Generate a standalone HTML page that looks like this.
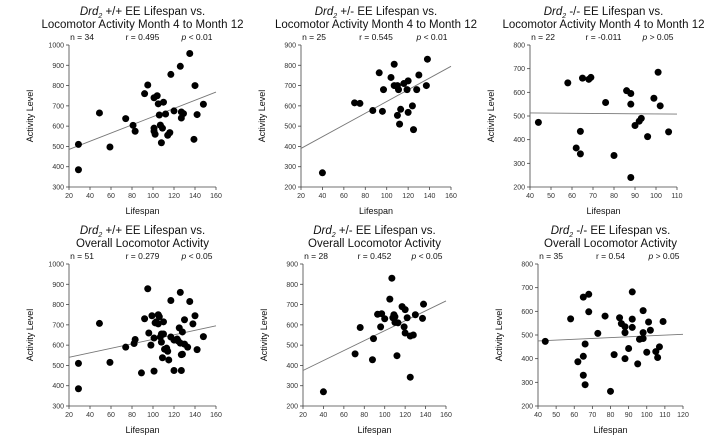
<!DOCTYPE html>
<html><head><meta charset="utf-8"><style>
body{margin:0;background:#fff;width:710px;height:440px;overflow:hidden}
svg{font-family:"Liberation Sans",Arial,sans-serif}
</style></head><body>
<svg id="c" width="710" height="440"></svg>
<script>
const p1x=[29,29,49,59,74,81,83,92,95,101,101,101,102,104,105,106,107,108,109,110,112,114,116,117,120,126,127,127,129,135,139,140,142,148];
const p1y=[510,385,665,497,637,604,575,760,803,740,590,575,560,750,710,655,605,518,590,718,660,555,568,855,675,895,640,670,662,958,535,800,657,708];
const p2x=[40,70,75,87,93,97,96,104,107,107,110,110,111,112,113,116,119,120,120,124,125,128,130,137,138];
const p2y=[270,615,612,577,763,680,573,740,805,700,700,553,680,510,583,710,680,723,568,600,483,680,752,700,830];
const p3x=[44,58,65,68,69,62,64,64,76,80,86,88,88,88,90,92,93,96,99,101,102,106];
const p3y=[473,640,660,655,663,365,435,340,557,333,607,595,550,240,460,478,490,413,575,685,543,433];
const p4x=[29,29,49,59,74,82,83,89,92,95,96,98,99,101,101,102,103,105,105,106,107,108,108,109,110,110,111,113,114,115,117,117,120,120,123,125,126,126,127,127,128,128,130,130,133,135,138,140,142,148,124];
const p4y=[510,385,707,515,590,608,628,463,730,878,660,600,745,472,635,710,715,750,705,740,640,655,615,538,655,715,580,585,570,527,820,640,475,625,630,685,860,610,553,475,555,665,725,605,590,815,705,745,578,642,620];
const p5x=[40,71,76,88,89,93,96,97,100,105,107,108,109,110,110,112,113,117,119,120,120,122,125,125,128,130,137,138];
const p5y=[270,457,587,428,532,652,590,655,630,727,830,635,650,612,640,448,610,690,590,675,560,635,545,342,550,650,632,702];
const p6x=[44,58,65,68,68,65,65,66,66,62,73,77,80,82,85,86,88,88,88,90,92,92,92,95,96,98,98,98,100,101,102,105,106,107,109];
const p6y=[473,568,660,672,598,410,330,290,462,387,507,580,262,417,573,548,535,510,400,443,682,567,532,378,482,603,510,485,427,555,520,430,405,450,557];
const titles1=["+/+ EE Lifespan vs.","+/- EE Lifespan vs.","-/- EE Lifespan vs.","+/+ EE Lifespan vs.","+/- EE Lifespan vs.","-/- EE Lifespan vs."];
const titles2=["Locomotor Activity Month 4 to Month 12","Locomotor Activity Month 4 to Month 12","Locomotor Activity Month 4 to Month 12","Overall Locomotor Activity","Overall Locomotor Activity","Overall Locomotor Activity"];
const nLabels=["n = 34","n = 25","n = 22","n = 51","n = 28","n = 35"];
const rLabels=["r = 0.495","r = 0.545","r = -0.011","r = 0.279","r = 0.452","r = 0.54"];
const pLabels=["< 0.01","< 0.01","> 0.05","< 0.05","< 0.05","> 0.05"];
const fitX0=[20,20,40,20,20,40], fitY0=[485,390,513,540,375,475];
const fitX1=[160,160,110,160,160,120], fitY1=[768,795,508,695,718,503];
const xTicks=[[20,40,60,80,100,120,140,160],[20,40,60,80,100,120,140,160],[40,50,60,70,80,90,100,110],[20,40,60,80,100,120,140,160],[20,40,60,80,100,120,140,160],[40,50,60,70,80,90,100,110,120]];
const yTicks=[[300,400,500,600,700,800,900,1000],[200,300,400,500,600,700,800,900],[200,300,400,500,600,700,800],[300,400,500,600,700,800,900,1000],[200,300,400,500,600,700,800,900],[200,300,400,500,600,700,800]];
const XS=[p1x,p2x,p3x,p4x,p5x,p6x], YS=[p1y,p2y,p3y,p4y,p5y,p6y];
const boxes=[[69,216,45,187],[301,451,45,187],[530,677,45,187],[69,216,264,406],[303,446,264,406],[538,683,264,406]];
const NS="http://www.w3.org/2000/svg", svg=document.getElementById('c');
function mk(t,a,par){const e=document.createElementNS(NS,t);for(const k in a)e.setAttribute(k,a[k]);(par||svg).appendChild(e);return e;}
for(let i=0;i<6;i++){
  const [L,R,T,B]=boxes[i], xt=xTicks[i], yt=yTicks[i];
  const xmin=xt[0],xmax=xt[xt.length-1],ymin=yt[0],ymax=yt[yt.length-1];
  const sx=v=>L+(v-xmin)/(xmax-xmin)*(R-L), sy=v=>B-(v-ymin)/(ymax-ymin)*(B-T);
  const g=mk('g',{});
  
  
  const cx=(L+R)/2, top=T-45;
  const t1=mk('text',{x:cx,y:top+15,'text-anchor':'middle','font-size':'11.5',fill:'#111'},g);
  
  
  t1.innerHTML='<tspan font-style="italic">Drd</tspan><tspan font-style="italic" font-size="7" dy="3">2</tspan><tspan dy="-3"> '+titles1[i]+'</tspan>';
  const t2=mk('text',{x:cx,y:top+28,'text-anchor':'middle','font-size':'11.5',fill:'#111'},g);
  
  
  t2.textContent=titles2[i];
  const s1=mk('text',{x:L+13,y:top+40,'text-anchor':'middle','font-size':'8.5',fill:'#111'},g);
  
  
  s1.textContent=nLabels[i];
  const s2=mk('text',{x:cx,y:top+40,'text-anchor':'middle','font-size':'8.5',fill:'#111'},g);
  
  
  s2.textContent=rLabels[i];
  const s3=mk('text',{x:R-19,y:top+40,'text-anchor':'middle','font-size':'8.5',fill:'#111'},g);
  
  
  s3.innerHTML='<tspan font-style="italic">p</tspan> '+pLabels[i];
  const ax=mk('path',{d:`M${L},${T}V${B}H${R}`,stroke:'#444',fill:'none','stroke-width':'0.8'},g);
  
  
  xt.forEach(v=>{mk('line',{x1:sx(v),x2:sx(v),y1:B,y2:B+3,stroke:'#444','stroke-width':'0.8'},g);
    const tx=mk('text',{x:sx(v),y:B+11,'text-anchor':'middle','font-size':'7',fill:'#333'},g);
    
    
    tx.textContent=v;});
  yt.forEach(v=>{mk('line',{x1:L-3,x2:L,y1:sy(v),y2:sy(v),stroke:'#444','stroke-width':'0.8'},g);
    const tx=mk('text',{x:L-5,y:sy(v)+2.5,'text-anchor':'end','font-size':'7',fill:'#333'},g);
    
    
    tx.textContent=v;});
  const xl=mk('text',{x:cx,y:B+27,'text-anchor':'middle','font-size':'9',fill:'#111'},g);
  
  
  xl.textContent='Lifespan';
  const yx=L-36, yy=(T+B)/2;
  const yl=mk('text',{x:yx,y:yy,'text-anchor':'middle','font-size':'9',fill:'#111',transform:`rotate(-90 ${yx} ${yy})`},g);
  
  
  yl.textContent='Activity Level';
  const fl=mk('line',{x1:sx(fitX0[i]),y1:sy(fitY0[i]),x2:sx(fitX1[i]),y2:sy(fitY1[i]),stroke:'#777','stroke-width':'0.9'},g);
  
  
  XS[i].forEach((v,j)=>{const c=mk('circle',{cx:sx(v),cy:sy(YS[i][j]),r:3.5,fill:'#000'},g);
    
    });
}
</script>
</body></html>
